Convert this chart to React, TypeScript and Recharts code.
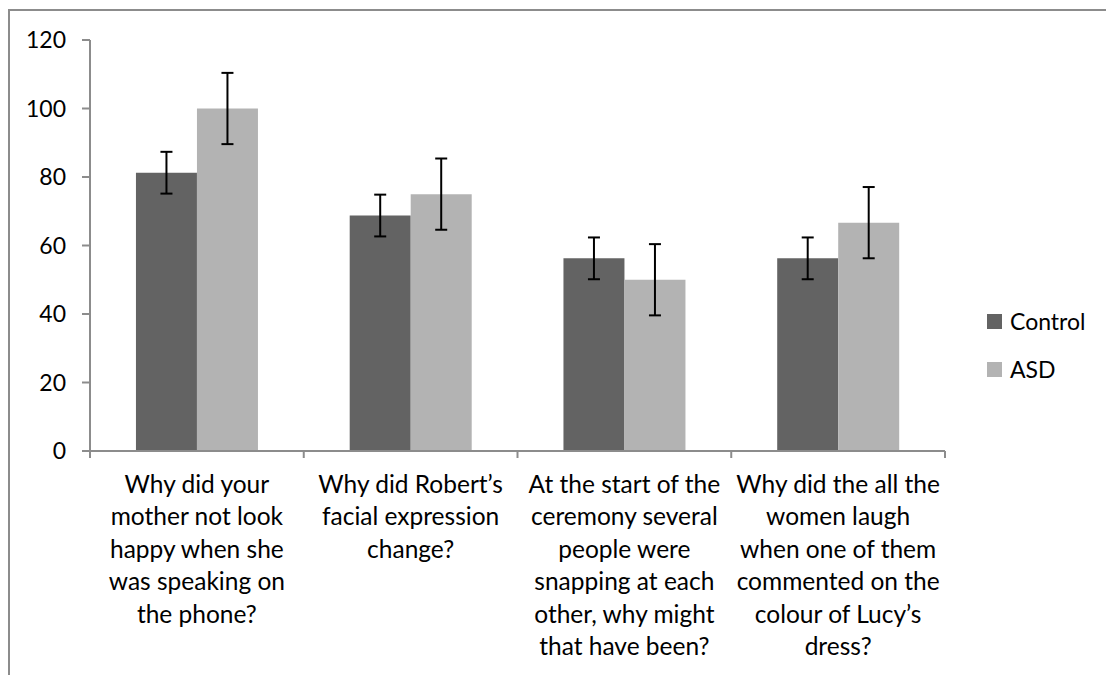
import React from 'react'
import { BarChart, Bar, XAxis, YAxis, ErrorBar } from 'recharts'

// question labels, already wrapped the way the original shows them
const QUESTION_LINES = [
  ['Why did your', 'mother not look', 'happy when she', 'was speaking on', 'the phone?'],
  ['Why did Robert\u2019s', 'facial expression', 'change?'],
  ['At the start of the', 'ceremony several', 'people were', 'snapping at each', 'other, why might', 'that have been?'],
  ['Why did the all the', 'women laugh', 'when one of them', 'commented on the', 'colour of Lucy\u2019s', 'dress?'],
]
const QUESTIONS = QUESTION_LINES.map(l => l.join(' '))
const CONTROL = [81.25, 68.75, 56.25, 56.25]
const ASD = [100, 75, 50, 66.67]
const CONTROL_ERR = [6.1, 6.1, 6.1, 6.1]
const ASD_ERR = [10.4, 10.4, 10.4, 10.4]
const Y_TICKS = [0, 20, 40, 60, 80, 100, 120]

const SERIES = [
  { key: 'control', name: 'Control', color: '#636363' },
  { key: 'asd', name: 'ASD', color: '#b3b3b3' },
]

const data = QUESTIONS.map((q, i) => ({
  q,
  control: CONTROL[i],
  asd: ASD[i],
  controlErr: CONTROL_ERR[i],
  asdErr: ASD_ERR[i],
}))

const FONT = 'Lato, "Noto Sans", sans-serif'
const AXIS = '#8c8c8c'

const QuestionTick = (props: any) => {
  const { x, y, payload, index } = props
  const half = payload && payload.offset ? payload.offset : 107
  const lines = QUESTION_LINES[QUESTIONS.indexOf(payload.value)] || []
  return (
    <g>
      <line x1={x - half} y1={y} x2={x - half} y2={y + 7} stroke={AXIS} strokeWidth={2} />
      {index === QUESTIONS.length - 1 && (
        <line x1={x + half} y1={y} x2={x + half} y2={y + 7} stroke={AXIS} strokeWidth={2} />
      )}
      <text textAnchor="middle" fontSize={24.5} fill="#000" fontFamily={FONT}>
        {lines.map((t, i) => (
          <tspan key={i} x={x} y={y + 42 + i * 32.4}>{t}</tspan>
        ))}
      </text>
    </g>
  )
}

export default function App() {
  return (
    <div style={{ position: 'absolute', left: 0, top: 0, width: 1106, height: 675, background: '#fff', overflow: 'hidden', fontFamily: FONT }}>
      <div style={{ position: 'absolute', left: 8, top: 9, width: 1200, height: 800, borderLeft: `2px solid ${AXIS}`, borderTop: `2px solid ${AXIS}` }} />
      <BarChart
        width={1106}
        height={675}
        data={data}
        margin={{ top: 40, right: 161, bottom: 24, left: 0 }}
        barCategoryGap="21.5%"
        barGap={0}
      >
        <XAxis
          dataKey="q"
          interval={0}
          tickLine={false}
          tickSize={0}
          tickMargin={0}
          height={200}
          stroke={AXIS}
          strokeWidth={2}
          tick={<QuestionTick />}
        />
        <YAxis
          domain={[0, 120]}
          ticks={Y_TICKS}
          width={90}
          tickSize={8}
          tickMargin={16}
          stroke={AXIS}
          strokeWidth={2}
          tick={{ fill: '#000', fontSize: 23, fontFamily: FONT }}
        />
        <Bar dataKey="control" name="Control" fill={SERIES[0].color} isAnimationActive={false}>
          <ErrorBar dataKey="controlErr" direction="y" width={6} stroke="#000" strokeWidth={2} />
        </Bar>
        <Bar dataKey="asd" name="ASD" fill={SERIES[1].color} isAnimationActive={false}>
          <ErrorBar dataKey="asdErr" direction="y" width={6} stroke="#000" strokeWidth={2} />
        </Bar>
      </BarChart>
      <div style={{ position: 'absolute', left: 987, top: 306, fontSize: 23, color: '#000' }}>
        {SERIES.map((s, i) => (
          <div key={s.key} style={{ display: 'flex', alignItems: 'center', height: 30, marginBottom: i === 0 ? 18 : 0 }}>
            <span style={{ width: 15, height: 15, background: s.color, display: 'inline-block', marginRight: 8 }} />
            <span>{s.name}</span>
          </div>
        ))}
      </div>
    </div>
  )
}
